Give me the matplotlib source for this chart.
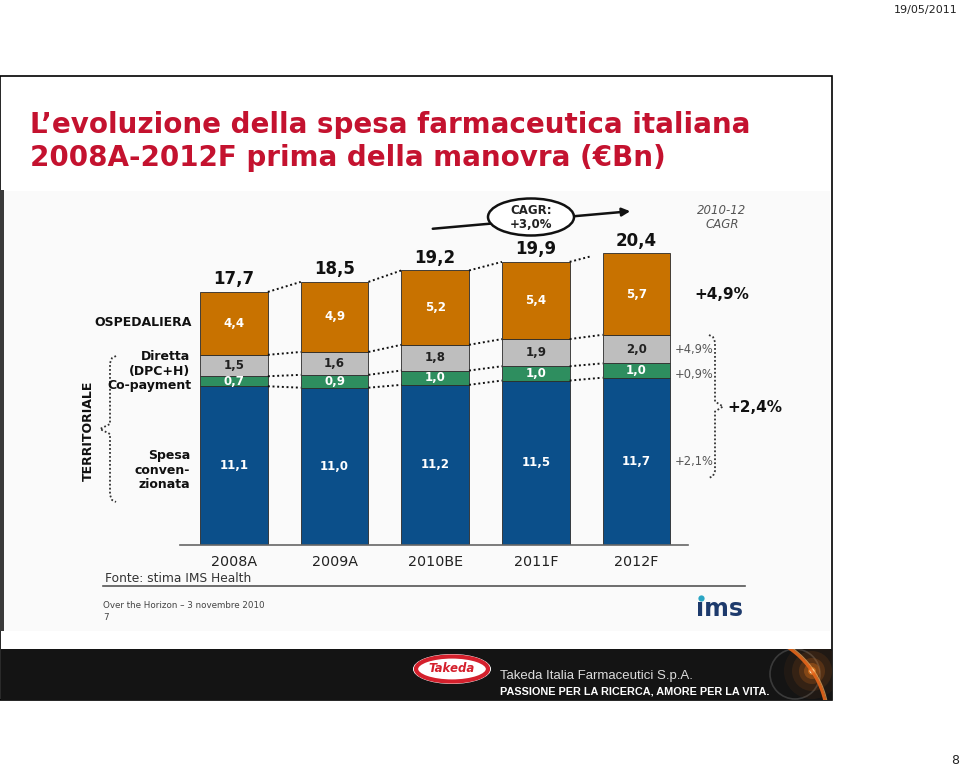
import numpy as np
import matplotlib
matplotlib.use("Agg")
import matplotlib.pyplot as plt
from matplotlib.patches import Rectangle, Ellipse

# data (billions of euro)
years = ["2008A", "2009A", "2010BE", "2011F", "2012F"]
convenzionata = [11.1, 11.0, 11.2, 11.5, 11.7]
copayment = [0.7, 0.9, 1.0, 1.0, 1.0]
diretta = [1.5, 1.6, 1.8, 1.9, 2.0]
ospedaliera = [4.4, 4.9, 5.2, 5.4, 5.7]
totals = [17.7, 18.5, 19.2, 19.9, 20.4]

# 2010-12 CAGR per segment (ospedaliera, diretta, co-payment, convenzionata)
cagr_osp = "+4,9%"
cagr_small = ["+4,9%", "+0,9%", "+2,1%"]
cagr_territoriale = "+2,4%"
cagr_total = "+3,0%"

c_blue = "#0B4F8A"
c_green = "#2E8E5F"
c_gray = "#BEBEBE"
c_orange = "#C87200"
c_red = "#C4122F"


def fmt(v):
    return f"{v:.1f}".replace(".", ",")


W, H = 960, 769
fig = plt.figure(figsize=(9.6, 7.69), dpi=100)
fig.patch.set_facecolor("white")

# background layer in pixel coordinates
bg = fig.add_axes([0, 0, 1, 1], zorder=0)
bg.set_xlim(0, W)
bg.set_ylim(H, 0)
bg.axis("off")

bg.add_patch(Rectangle((0, 76), 832, 624, fc="white", ec="black", lw=1.2))
bg.add_patch(Rectangle((4, 191), 826, 440, fc="#FAFAFA", ec="none"))
bg.add_patch(Rectangle((0, 190), 4, 441, fc="#3A3A3A", ec="none"))
footer = Rectangle((0.5, 649), 831, 51, fc="#141414", ec="none")
bg.add_patch(footer)

# flare in the footer, clipped to the band
flare = [bg.add_patch(Ellipse((795, 674), 50, 50, fc="none", ec="#3a3a3a", lw=1.2))]
for r, a in zip([28, 20, 13, 8, 4], [0.06, 0.1, 0.18, 0.3, 0.6]):
    flare.append(bg.add_patch(Ellipse((812, 671), 2 * r, 2 * r, fc="#F07A1A", ec="none", alpha=a)))
flare.append(bg.add_patch(Ellipse((812, 671), 5, 5, fc="#FFF2D0", ec="none")))
t = np.radians(np.linspace(-60, -8, 50))
flare += bg.plot(740 + 87 * np.cos(t), 720 + 87 * np.sin(t), color="#E8661A", lw=2.2, alpha=0.9)
flare += bg.plot(740 + 89 * np.cos(t), 720 + 89 * np.sin(t), color="#F6B060", lw=0.8, alpha=0.7)
for art in flare:
    art.set_clip_path(footer)

bg.text(958, 5, "19/05/2011", ha="right", va="top", fontsize=8, color="#222")
bg.text(955, 761, "8", ha="center", va="center", fontsize=9, color="#222")

bg.text(30, 125, "L\u2019evoluzione della spesa farmaceutica italiana", ha="left", va="center",
        fontsize=20, fontweight="bold", color=c_red)
bg.text(30, 158, "2008A-2012F prima della manovra (\u20acBn)", ha="left", va="center",
        fontsize=20, fontweight="bold", color=c_red)

# bar chart axes: baseline at y=545px, 14.3 px per billion, bars 100.6 px apart
px_unit = 14.3
ax = fig.add_axes([180 / W, (H - 545) / H, 508 / W, 355 / H], zorder=1)
ax.patch.set_alpha(0)
ax.set_xlim(-0.537, 4.513)
ax.set_ylim(0, 355 / px_unit)

x = np.arange(len(years))
bw = 0.673
layers = [convenzionata, copayment, diretta, ospedaliera]
colors = [c_blue, c_green, c_gray, c_orange]
txtcol = ["white", "white", "#222222", "white"]
bottom = np.zeros(len(years))
levels = []
mids = []
for vals, col, tc in zip(layers, colors, txtcol):
    vals = np.array(vals)
    ax.bar(x, vals, bw, bottom=bottom, color=col, edgecolor="#2a2a2a", lw=0.6)
    mid = bottom + vals / 2
    mids.append(mid)
    for xi, m, v in zip(x, mid, vals):
        ax.text(xi, m, fmt(v), ha="center", va="center", fontsize=8.5,
                fontweight="bold", color=tc)
    bottom = bottom + vals
    levels.append(bottom.copy())

# dotted connectors between bars
for lev_i, lev in enumerate(levels):
    for i in range(len(years) - 1):
        x0, x1 = i + bw / 2, i + 1 - bw / 2
        y0, y1 = lev[i], lev[i + 1]
        if lev_i == len(levels) - 1 and i == len(years) - 2:
            x1 = x0 + 0.2
            y1 = y0 + (lev[i + 1] - y0) * 0.2 / (1 - bw)
        ax.plot([x0, x1], [y0, y1], color="#111", lw=1.4, ls=(0, (1, 1.4)))

for xi, top, tot in zip(x, levels[-1], totals):
    ax.annotate(fmt(tot), (xi, top), xytext=(0, 9), textcoords="offset points",
                ha="center", va="center", fontsize=12, fontweight="bold", color="#111")

ax.set_xticks(x)
ax.set_xticklabels(years, fontsize=10.3, color="#222")
ax.tick_params(axis="x", length=0, pad=7)
ax.set_yticks([])
for s in ["top", "right", "left"]:
    ax.spines[s].set_visible(False)
ax.spines["bottom"].set_color("#666")
ax.spines["bottom"].set_linewidth(1.2)

# right side CAGR labels at the 2012 segment midpoints
last = len(years) - 1
ax.text(last + 0.58, mids[3][last], cagr_osp, ha="left", va="center",
        fontsize=11, fontweight="bold", color="#111")
for m, lab in zip([mids[2][last], mids[1][last] - 0.3, mids[0][last]], cagr_small):
    ax.text(last + 0.38, m, lab, ha="left", va="center", fontsize=8.3, color="#555")

# foreground layer for annotations in pixel coordinates
fg = fig.add_axes([0, 0, 1, 1], zorder=2)
fg.patch.set_alpha(0)
fg.set_xlim(0, W)
fg.set_ylim(H, 0)
fg.axis("off")


def brace(xc, y0, y1, tip):
    ym = (y0 + y1) / 2
    s = np.sign(tip)
    px = [xc - s * 6, xc - s * 2, xc, xc, xc + tip, xc, xc, xc - s * 2, xc - s * 6]
    py = [y0, y0 + 2, y0 + 7, ym - 5, ym, ym + 5, y1 - 7, y1 - 2, y1]
    fg.plot(px, py, color="#333", lw=1.3, ls=(0, (1, 1.2)))


brace(110, 356, 502, -10)
brace(715, 335, 478, 8)
fg.text(727, 407, cagr_territoriale, ha="left", va="center", fontsize=11,
        fontweight="bold", color="#111")

fg.text(722, 210, "2010-12", ha="center", va="center", fontsize=8.5,
        style="italic", color="#555")
fg.text(722, 225, "CAGR", ha="center", va="center", fontsize=8.5,
        style="italic", color="#555")

# CAGR arrow with ellipse drawn over it
fg.annotate("", xy=(633, 211), xytext=(430, 229),
            arrowprops=dict(arrowstyle="-|>", color="#111", lw=1.8, mutation_scale=12))
fg.add_patch(Ellipse((531, 217), 86, 37, fc="white", ec="#111", lw=1.8, zorder=5))
fg.text(531, 210, "CAGR:", ha="center", va="center", fontsize=8.5, fontweight="bold",
        color="#222", zorder=6)
fg.text(531, 225, cagr_total, ha="center", va="center", fontsize=8.5, fontweight="bold",
        color="#222", zorder=6)

# left labels
lab_kw = dict(ha="right", va="center", fontsize=9, fontweight="bold", color="#111")
fg.text(192, 322, "OSPEDALIERA", **lab_kw)
fg.text(190, 357, "Diretta", **lab_kw)
fg.text(190, 371, "(DPC+H)", **lab_kw)
fg.text(192, 385, "Co-payment", **lab_kw)
fg.text(190, 455, "Spesa", **lab_kw)
fg.text(190, 470, "conven-", **lab_kw)
fg.text(190, 485, "zionata", **lab_kw)
fg.text(88, 431, "TERRITORIALE", rotation=90, ha="center", va="center",
        fontsize=9, fontweight="bold", color="#111")

# source and footer
fg.text(105, 578, "Fonte: stima IMS Health", ha="left", va="center", fontsize=8.8, color="#333")
fg.plot([103, 745], [585.5, 585.5], color="#555", lw=1.2)
fg.text(103, 606, "Over the Horizon \u2013 3 novembre 2010", ha="left", va="center",
        fontsize=6.3, color="#444")
fg.text(103, 617, "7", ha="left", va="center", fontsize=6.3, color="#444")

fg.text(696, 609, "\u0131ms", ha="left", va="center", fontsize=17, fontweight="bold", color="#1D3A6C")
fg.plot([701], [598], marker="o", ms=4.5, color="#2BA6C4", mec="none")

fg.add_patch(Ellipse((452, 669), 78, 30, fc="white", ec="none"))
fg.add_patch(Ellipse((452, 669), 72, 25, fc="white", ec="#D4202C", lw=3))
fg.text(452, 669, "Takeda", ha="center", va="center", fontsize=8.5, fontweight="bold",
        style="italic", color="#D4202C")
fg.text(500, 676, "Takeda Italia Farmaceutici S.p.A.", ha="left", va="center",
        fontsize=9.5, family="Liberation Sans", color="#DDDDDD")
fg.text(500, 691, "PASSIONE PER LA RICERCA, AMORE PER LA VITA.", ha="left", va="center",
        fontsize=7.8, fontweight="bold", family="Liberation Sans", color="white")

fig.savefig("out.png", dpi=100)
